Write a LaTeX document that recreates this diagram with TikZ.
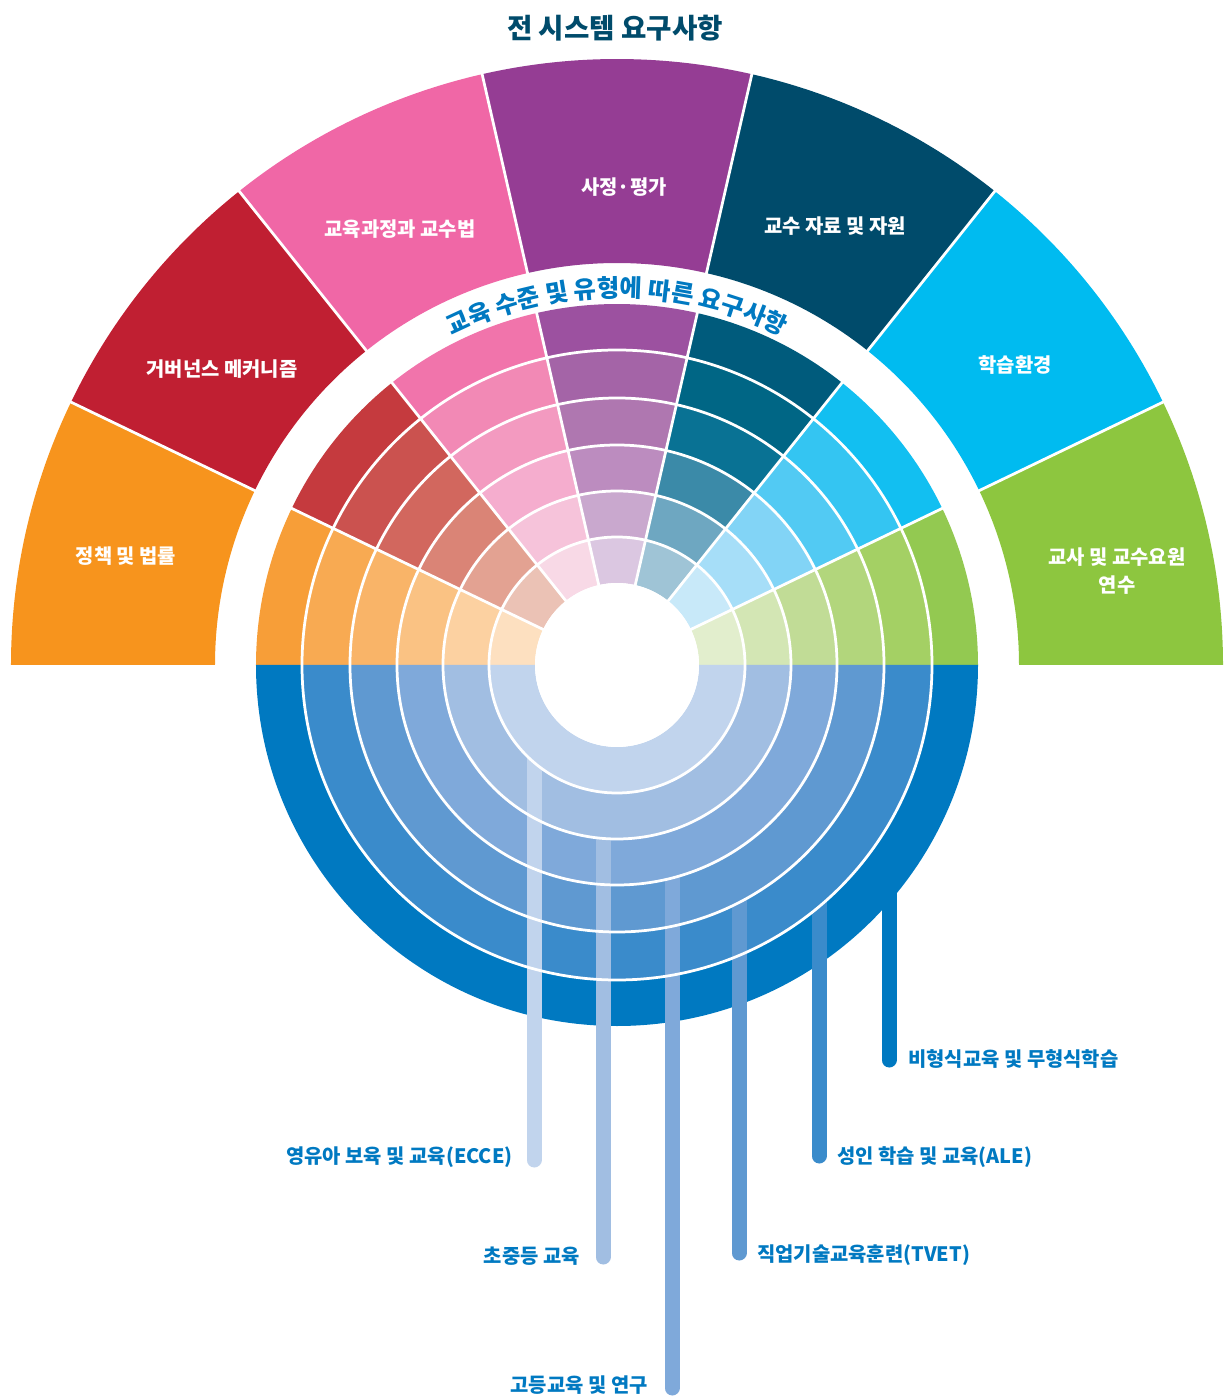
\documentclass[tikz,border=0pt]{standalone}
\usepackage{fontspec}
\setmainfont{Noto Sans CJK KR}
\usetikzlibrary{decorations.text}

\definecolor{orangeA}{HTML}{F7941D}
\definecolor{redA}{HTML}{C01F32}
\definecolor{pinkA}{HTML}{F067A6}
\definecolor{purpleA}{HTML}{953D94}
\definecolor{navyA}{HTML}{004B6B}
\definecolor{cyanA}{HTML}{00BBF0}
\definecolor{greenA}{HTML}{8DC63F}
\definecolor{lvblue}{HTML}{0079C1}

\definecolor{or1}{HTML}{F79E38}\definecolor{or2}{HTML}{F8AA52}\definecolor{or3}{HTML}{F9B468}
\definecolor{or4}{HTML}{FAC283}\definecolor{or5}{HTML}{FCD1A1}\definecolor{or6}{HTML}{FDE0C0}
\definecolor{rd1}{HTML}{C53A3E}\definecolor{rd2}{HTML}{CB524F}\definecolor{rd3}{HTML}{D2675E}
\definecolor{rd4}{HTML}{DA8476}\definecolor{rd5}{HTML}{E3A292}\definecolor{rd6}{HTML}{EBC2B5}
\definecolor{pk1}{HTML}{F174AB}\definecolor{pk2}{HTML}{F289B5}\definecolor{pk3}{HTML}{F39AC0}
\definecolor{pk4}{HTML}{F5ADCE}\definecolor{pk5}{HTML}{F6C3DA}\definecolor{pk6}{HTML}{F8D9E6}
\definecolor{pu1}{HTML}{9C51A0}\definecolor{pu2}{HTML}{A464A7}\definecolor{pu3}{HTML}{AF77B0}
\definecolor{pu4}{HTML}{BC8CBF}\definecolor{pu5}{HTML}{C9A8CE}\definecolor{pu6}{HTML}{DBC7E1}
\definecolor{nv1}{HTML}{005B7C}\definecolor{nv2}{HTML}{006685}\definecolor{nv3}{HTML}{097294}
\definecolor{nv4}{HTML}{3B8AA8}\definecolor{nv5}{HTML}{6EA7C1}\definecolor{nv6}{HTML}{9FC4D6}
\definecolor{cy1}{HTML}{12BFF1}\definecolor{cy2}{HTML}{34C5F2}\definecolor{cy3}{HTML}{52CAF3}
\definecolor{cy4}{HTML}{82D4F6}\definecolor{cy5}{HTML}{A6DEF8}\definecolor{cy6}{HTML}{C8E9F9}
\definecolor{gr1}{HTML}{93C951}\definecolor{gr2}{HTML}{A4D064}\definecolor{gr3}{HTML}{B2D67C}
\definecolor{gr4}{HTML}{C1DC96}\definecolor{gr5}{HTML}{D3E6B4}\definecolor{gr6}{HTML}{E2EECD}
\definecolor{bl1}{HTML}{0079C1}\definecolor{bl2}{HTML}{3A8BCB}\definecolor{bl3}{HTML}{5F99D1}
\definecolor{bl4}{HTML}{7FA9DA}\definecolor{bl5}{HTML}{A1BEE2}\definecolor{bl6}{HTML}{C1D4ED}

\def\ringpiece[#1](#2:#3:#4:#5){\fill[#1] (#2:#4) arc (#2:#3:#4) -- (#3:#5) arc (#3:#2:#5) -- cycle;}
\def\wedgeset(#1:#2)#3#4#5#6#7#8{%
	\ringpiece[#3](#1:#2:315:361)%
	\ringpiece[#4](#1:#2:267:315)%
	\ringpiece[#5](#1:#2:220:267)%
	\ringpiece[#6](#1:#2:174:220)%
	\ringpiece[#7](#1:#2:128:174)%
	\ringpiece[#8](#1:#2:82:128)}

\begin{document}
\begin{tikzpicture}[x=0.02cm, y=0.02cm,
		sepline/.style={white, line width=0.055cm},
		bar/.style={line width=0.3cm, line cap=round},
		lvltext/.style={font=\fontsize{11.3pt}{13pt}\selectfont\bfseries, text=lvblue, inner sep=0pt},
		secttext/.style={font=\fontsize{11.3pt}{16pt}\selectfont\bfseries, text=white, align=center}]
		%%%%% START %%%%%
		
		\useasboundingbox (-617, -733) rectangle (609, 665);
		
		\ringpiece[orangeA](180:154.29:402:606)
		\ringpiece[redA](154.29:128.57:402:606)
		\ringpiece[pinkA](128.57:102.86:402:606)
		\ringpiece[purpleA](102.86:77.14:402:606)
		\ringpiece[navyA](77.14:51.43:402:606)
		\ringpiece[cyanA](51.43:25.71:402:606)
		\ringpiece[greenA](25.71:0:402:606)
		
		\wedgeset(180:154.29){or1}{or2}{or3}{or4}{or5}{or6}
		\wedgeset(154.29:128.57){rd1}{rd2}{rd3}{rd4}{rd5}{rd6}
		\wedgeset(128.57:102.86){pk1}{pk2}{pk3}{pk4}{pk5}{pk6}
		\wedgeset(102.86:77.14){pu1}{pu2}{pu3}{pu4}{pu5}{pu6}
		\wedgeset(77.14:51.43){nv1}{nv2}{nv3}{nv4}{nv5}{nv6}
		\wedgeset(51.43:25.71){cy1}{cy2}{cy3}{cy4}{cy5}{cy6}
		\wedgeset(25.71:0){gr1}{gr2}{gr3}{gr4}{gr5}{gr6}
		\wedgeset(180:360){bl1}{bl2}{bl3}{bl4}{bl5}{bl6}
		\fill[white] (0, 0) circle (82);
		
		\coordinate (ecceTop) at (-83, -75);   \coordinate (ecceEnd) at (-83, -495);
		\coordinate (priTop) at (-14, -150);   \coordinate (priEnd) at (-14, -592);
		\coordinate (higherTop) at (55, -195); \coordinate (higherEnd) at (55, -723);
		\coordinate (tvetTop) at (122, -215);  \coordinate (tvetEnd) at (122, -588);
		\coordinate (aleTop) at (202, -215);   \coordinate (aleEnd) at (202, -491);
		\coordinate (nfTop) at (272, -215);    \coordinate (nfEnd) at (272, -395);
		\draw[bar, color=bl6] (ecceTop) -- (ecceEnd);
		\draw[bar, color=bl5] (priTop) -- (priEnd);
		\draw[bar, color=bl4] (higherTop) -- (higherEnd);
		\draw[bar, color=bl3] (tvetTop) -- (tvetEnd);
		\draw[bar, color=bl2] (aleTop) -- (aleEnd);
		\draw[bar, color=bl1] (nfTop) -- (nfEnd);
		
		\draw[sepline] (0, 0) circle (128) (0, 0) circle (174) (0, 0) circle (220) (0, 0) circle (267) (0, 0) circle (315);
		\draw[sepline] (154.29:80) -- (154.29:362) (128.57:80) -- (128.57:362) (102.86:80) -- (102.86:362)
			(77.14:80) -- (77.14:362) (51.43:80) -- (51.43:362) (25.71:80) -- (25.71:362);
		\draw[sepline] (154.29:400) -- (154.29:608) (128.57:400) -- (128.57:608) (102.86:400) -- (102.86:608)
			(77.14:400) -- (77.14:608) (51.43:400) -- (51.43:608) (25.71:400) -- (25.71:608);
		
		\node[secttext] (policy) at (-491, 109) {정책 및 법률};
		\node[secttext] (governance) at (-395, 296) {거버넌스 메커니즘};
		\node[secttext] (curriculum) at (-217, 436) {교육과정과 교수법};
		\node[secttext] (assessment) at (7, 478) {사정·평가};
		\node[secttext] (resources) at (218, 439) {교수 자료 및 자원};
		\node[secttext] (environment) at (398, 300) {학습환경};
		\node[secttext] (teachers) at (500, 94) {교사 및 교수요원\\연수};
		
		\node[lvltext, anchor=east] (ecce) at (-104, -492) {영유아 보육 및 교육(ECCE)};
		\node[lvltext, anchor=east] (primary) at (-37, -591) {초중등 교육};
		\node[lvltext, anchor=east] (higher) at (31, -720) {고등교육 및 연구};
		\node[lvltext, anchor=west] (tvet) at (140, -590) {직업기술교육훈련(TVET)};
		\node[lvltext, anchor=west] (ale) at (220, -492) {성인 학습 및 교육(ALE)};
		\node[lvltext, anchor=west] (nonformal) at (291, -394) {비형식교육 및 무형식학습};
		
		\path[decorate, decoration={text along path, text align=center, text color=lvblue,
			text={|\fontsize{13.9pt}{16pt}\selectfont\bfseries|교육 수준 및 유형에 따른 요구사항}}]
			(121:368) arc (121:59:368);
		
		\node[font=\fontsize{15.7pt}{18pt}\selectfont\bfseries, text=navyA] (title) at (-2, 637) {전 시스템 요구사항};
		
		%%%%% END %%%%%
	\end{tikzpicture}
\end{document}
